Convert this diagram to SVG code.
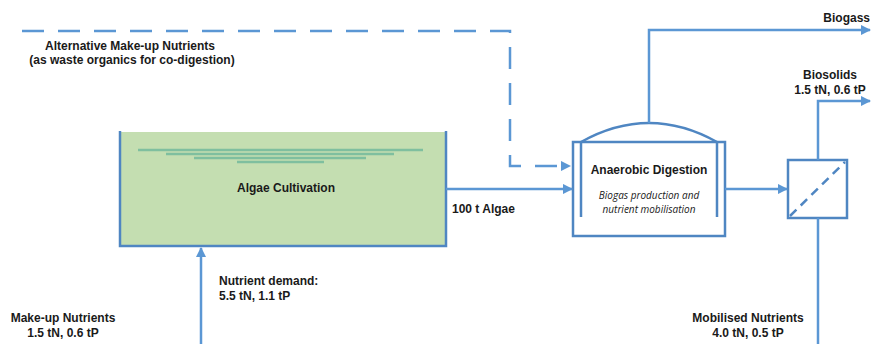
<svg xmlns="http://www.w3.org/2000/svg" width="873" height="344" viewBox="0 0 873 344">
<style>
.ln{fill:none;stroke:#5b97d4;stroke-width:2.5}
.bx{fill:none;stroke:#4f86c2;stroke-width:2.5}
.t{font-family:"Liberation Sans",Arial,sans-serif;font-weight:bold;font-size:12px;fill:#1a1a1a}
.i{font-family:"Open Sans","Liberation Sans",sans-serif;font-style:italic;font-size:10px;fill:#1a1a1a}
.w{stroke:#7fbf9f;stroke-width:2.5}
</style>
<defs>
<marker id="ah" viewBox="0 0 10 10" refX="9" refY="5" markerWidth="4.2" markerHeight="4.2" orient="auto" markerUnits="strokeWidth">
<path d="M0,0 L10,5 L0,10 z" fill="#5b97d4"/>
</marker>
</defs>
<rect width="873" height="344" fill="#fff"/>
<g id="algae-cultivation">
<rect x="120" y="132" width="326" height="114" fill="#c4deb1"/>
<path class="bx" d="M120,131 V246 H446 V131"/>
<line class="w" x1="138" y1="150" x2="423" y2="150"/>
<line class="w" x1="166" y1="154" x2="394" y2="154"/>
<line class="w" x1="194" y1="158" x2="366" y2="158"/>
<line class="w" x1="237" y1="162" x2="324" y2="162"/>
<text class="t" x="286" y="192" text-anchor="middle">Algae Cultivation</text>
</g>
<g id="anaerobic-digestion">
<rect class="bx" x="573" y="142" width="152" height="94"/>
<line class="bx" x1="581" y1="142" x2="581" y2="217"/>
<line class="bx" x1="717" y1="142" x2="717" y2="217"/>
<path class="bx" d="M581,142 Q649,104 717,142"/>
<text class="t" x="649" y="174" text-anchor="middle">Anaerobic Digestion</text>
<text class="i" x="649" y="199" text-anchor="middle">Biogas production and</text>
<text class="i" x="649" y="213" text-anchor="middle">nutrient mobilisation</text>
</g>
<g id="separator">
<rect class="bx" x="788" y="160" width="59" height="58"/>
<line class="bx" x1="790" y1="216" x2="845" y2="162" stroke-dasharray="9,6"/>
</g>
<g id="connectors">
<path class="ln" d="M22,31 H510 V166 H570" stroke-dasharray="22,14" marker-end="url(#ah)"/>
<path class="ln" d="M446,189 H572" marker-end="url(#ah)"/>
<path class="ln" d="M649,123 V30 H870" marker-end="url(#ah)"/>
<path class="ln" d="M725,189 H787" marker-end="url(#ah)"/>
<path class="ln" d="M818,160 V101 H870" marker-end="url(#ah)"/>
<path class="ln" d="M818,218 V344"/>
<path class="ln" d="M201,344 V248" marker-end="url(#ah)"/>
</g>
<g id="labels">
<text class="t" x="870" y="22" text-anchor="end">Biogass</text>
<text class="t" x="830" y="79" text-anchor="middle">Biosolids</text>
<text class="t" x="830" y="94" text-anchor="middle">1.5 tN, 0.6 tP</text>
<text class="t" x="130" y="50" text-anchor="middle">Alternative Make-up Nutrients</text>
<text class="t" x="132" y="64" text-anchor="middle">(as waste organics for co-digestion)</text>
<text class="t" x="452" y="213">100 t Algae</text>
<text class="t" x="219" y="285">Nutrient demand:</text>
<text class="t" x="219" y="300">5.5 tN, 1.1 tP</text>
<text class="t" x="63" y="322" text-anchor="middle">Make-up Nutrients</text>
<text class="t" x="63" y="337" text-anchor="middle">1.5 tN, 0.6 tP</text>
<text class="t" x="748" y="322" text-anchor="middle">Mobilised Nutrients</text>
<text class="t" x="748" y="337" text-anchor="middle">4.0 tN, 0.5 tP</text>
</g>
</svg>
